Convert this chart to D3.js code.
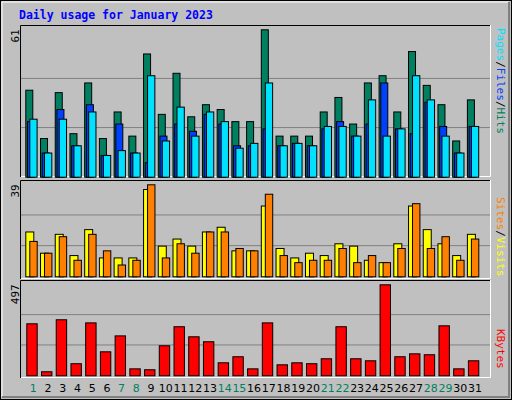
<!DOCTYPE html><html><head><script src="https://cdn.jsdelivr.net/npm/d3@7"></script>
<style>body{margin:0;background:#fff}svg{display:block}</style></head><body><svg id="c" width="512" height="400"></svg>
<script>
const days=d3.range(1,32);
const weekend=[1,7,8,14,15,21,22,28,29];
const hits=[36,16,35,18,39,16,27,17,51,26,43,25,30,28,23,23,61,17,17,17,27,33,22,39,42,27,52,38,30,15,32];
const files=[23,10,28,13,30,9,22,10,6,17,22,19,26,22,13,13,20,13,14,13,20,23,17,22,39,20,18,31,21,10,21];
const pages=[24,10,24,13,27,9,11,10,42,15,29,17,27,23,12,14,39,13,14,13,21,21,17,32,17,20,42,32,17,10,21];
const sites=[19,10,18,9,20,8,8,8,37,13,16,13,19,21,11,11,30,12,8,10,9,14,13,7,6,14,30,20,14,9,18];
const visits=[15,10,17,7,18,11,5,7,39,8,14,10,19,19,12,11,35,9,6,7,7,12,6,9,6,12,31,12,17,7,16];
const kbytes=[284,22,306,66,289,131,218,38,33,164,268,213,186,71,104,38,289,60,71,66,93,268,93,82,497,104,120,115,273,38,82];

const svg=d3.select("#c");
svg.append("rect").attr("x",0).attr("y",0).attr("width",512).attr("height",400).attr("fill","#c0c0c0");
svg.append("rect").attr("x",0.5).attr("y",0.5).attr("width",511).attr("height",399).attr("fill","none").attr("stroke","#000");
svg.append("path").attr("d","M2,397V2H509").attr("fill","none").attr("stroke","#fff");
svg.append("path").attr("d","M2,397H509V2").attr("fill","none").attr("stroke","#808080").attr("stroke-width",2);
svg.append("text").attr("x",19).attr("y",19).text("Daily usage for January 2023")
 .attr("font-family","DejaVu Sans Mono").attr("font-weight","bold").attr("font-size",11.5).attr("fill","#0000ff");

const x=d3.scaleLinear().domain([1,31]).range([25.3,466.9]);
const panels=[{t:25,b:177,base:176.7,max:61},{t:180,b:279,base:276.3,max:39},{t:280,b:378,base:375.3,max:497}];
const topV=[29.3,184.3,284.3];
panels.forEach((p,i)=>{
  p.y=d3.scaleLinear().domain([0,p.max]).range([p.base,topV[i]]);
  svg.append("rect").attr("x",20).attr("y",p.t).attr("width",471).attr("height",p.b-p.t).attr("fill","#c0c0c0");
  svg.append("path").attr("d",`M20.5,${p.b}V${p.t+0.5}H491`).attr("fill","none").attr("stroke","#000");
  svg.append("path").attr("d",`M21,${p.b-0.5}H490.5V${p.t}`).attr("fill","none").attr("stroke","#fff");
  [1/3,2/3].forEach(f=>svg.append("line").attr("x1",21).attr("x2",490).attr("y1",p.y(p.max*f)).attr("y2",p.y(p.max*f)).attr("stroke","#808080"));
  svg.append("text").attr("transform",`translate(19,${topV[i]}) rotate(-90)`).attr("text-anchor","end")
   .attr("font-family","DejaVu Sans Mono").attr("font-size",11).text(p.max);
});
function bars(p,data,dx,w,col){
  svg.append("g").selectAll("rect").data(data).join("rect")
   .attr("x",(d,i)=>x(days[i])+dx+0.5).attr("y",d=>p.y(d)+0.5)
   .attr("width",w).attr("height",d=>p.base-p.y(d))
   .attr("fill",col).attr("stroke","#000").attr("stroke-width",1);
}
bars(panels[0],hits,0,7,"#008060");
bars(panels[0],files,1.7,7,"#0040ff");
bars(panels[0],pages,4,7.3,"#00e0ff");
bars(panels[1],sites,0,8,"#ffff00");
bars(panels[1],visits,4,7.4,"#ff8000");
bars(panels[2],kbytes,1,10.4,"#ff0000");

svg.append("g").selectAll("text").data(days).join("text")
 .attr("x",d=>x(d)+8).attr("y",392).attr("text-anchor","middle")
 .attr("font-family","DejaVu Sans").attr("font-size",11)
 .attr("fill",d=>weekend.includes(d)?"#008060":"#000").text(d=>d);

function legend(y,parts){
  const t=svg.append("text").attr("transform",`translate(497,${y}) rotate(90)`)
   .attr("font-family","DejaVu Sans Mono").attr("font-size",11);
  parts.forEach(([s,c])=>t.append("tspan").attr("fill",c).text(s));
}
legend(28,[["Pages","#00e0ff"],["/","#000"],["Files","#0040ff"],["/","#000"],["Hits","#008060"]]);
legend(197,[["Sites","#ff8000"],["/","#000"],["Visits","#ffff00"]]);
legend(329,[["KBytes","#ff0000"]]);
</script></body></html>
